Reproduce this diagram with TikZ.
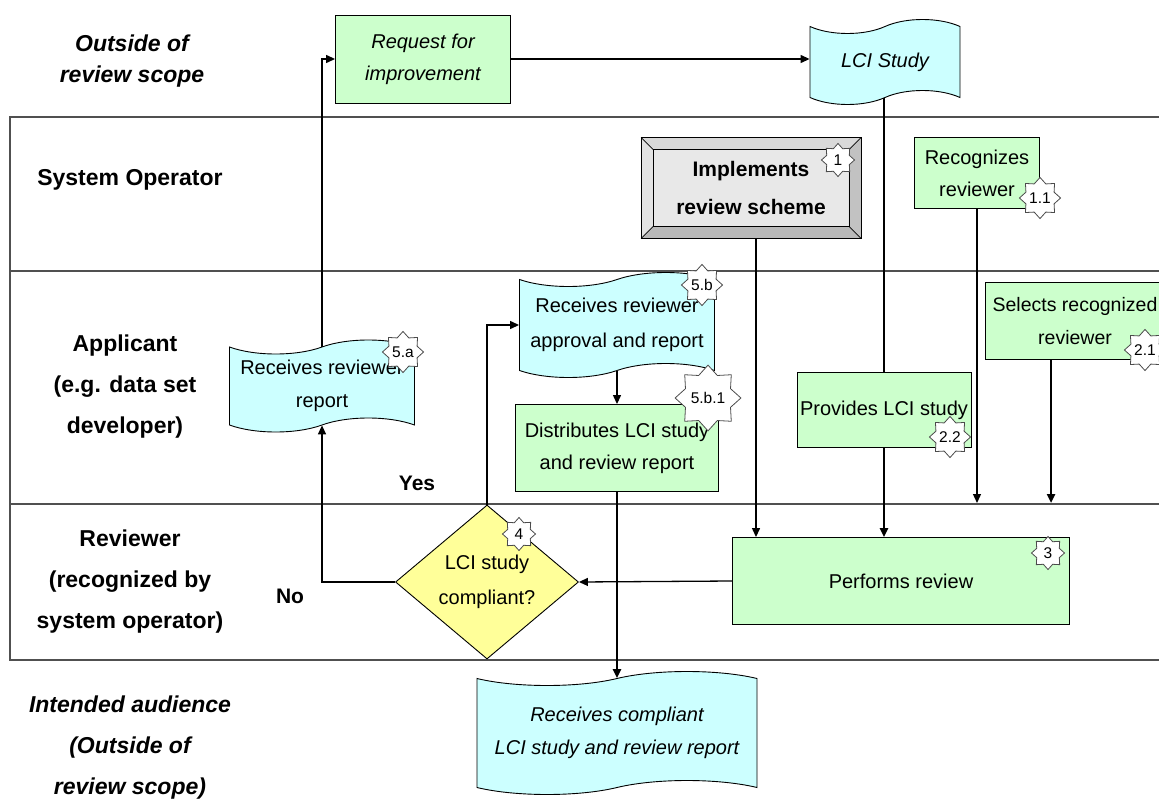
\documentclass[tikz,border=0pt]{standalone}
\usepackage{fontspec}
\setmainfont{Liberation Sans}
\usepackage{tikz}
\usepackage{xcolor}
\usetikzlibrary{positioning,arrows.meta,shapes.geometric,shapes.symbols,calc}

\definecolor{boxgreen}{HTML}{CCFFCC}
\definecolor{boxcyan}{HTML}{CCFFFF}
\definecolor{boxyellow}{HTML}{FFFF99}
\definecolor{laneline}{HTML}{505050}

\begin{document}
\begin{tikzpicture}[
          x=1pt, y=-1pt,
          lane/.style={draw=laneline, line width=1.3pt},
          lanelbl/.style={font=\fontsize{23}{41}\selectfont\bfseries, align=center},
          txt/.style={font=\fontsize{20}{33}\selectfont, align=center},
          task/.style={txt, draw, fill=boxgreen, line width=0.9pt, inner sep=1pt},
          doc/.style={txt, tape, draw, fill=boxcyan, tape bend height=14pt, line width=0.9pt, inner sep=1pt},
          badge/.style={star, star points=8, star point ratio=1.35, draw=gray!60!black, fill=white, line width=0.8pt,
                        minimum size=33pt, inner sep=0pt, font=\fontsize{15.5}{15.5}\selectfont},
          arr/.style={-{Triangle[length=9pt,width=8pt]}, line width=1.3pt},
          tharr/.style={arr, line width=2.6pt}
      ]
        \useasboundingbox (0,0) rectangle (1159,800);

        % swim lanes
        \draw[lane] (1159,117) -- (10,117) -- (10,660) -- (1159,660);
        \draw[lane] (10,271) -- (1159,271);
        \draw[lane] (10,504) -- (1159,504);
        \coordinate (revtop) at (0,503);

        \node[lanelbl, font=\fontsize{23}{31}\selectfont\bfseries\itshape] (outtop) at (132,61) {Outside of\\review scope};
        \node[lanelbl] (sysop) at (130,180) {System Operator};
        \node[lanelbl] (applic) at (125,387) {Applicant\\(e.g. data set\\developer)};
        \node[lanelbl] (revwr) at (130,582) {Reviewer\\(recognized by\\system operator)};
        \node[lanelbl, font=\fontsize{23}{41}\selectfont\bfseries\itshape] (audience) at (130,748) {Intended audience\\(Outside of\\review scope)};

        % boxes
        \node[task, minimum width=175pt, minimum height=88pt, font=\fontsize{20}{32}\selectfont\itshape] (req) at (423,59) {Request for\\improvement};
        \node[doc, minimum width=150pt, minimum height=85pt, font=\fontsize{20}{32}\selectfont\itshape] (lci) at (885,62) {LCI Study};

        \node[txt, draw, fill=gray!18, line width=0.9pt, minimum width=219pt, minimum height=100pt,
              font=\fontsize{21}{38}\selectfont\bfseries] (impl) at (751,188) {Implements\\review scheme};
        \fill[gray!30] (impl.north west) -- (impl.north east) -- ++(-12pt,-12pt) -- ($(impl.north west)+(12pt,-12pt)$) -- cycle;
        \fill[gray!22] (impl.north west) -- (impl.south west) -- ++(12pt,12pt) -- ($(impl.north west)+(12pt,-12pt)$) -- cycle;
        \fill[gray!55] (impl.south west) -- (impl.south east) -- ++(-12pt,12pt) -- ($(impl.south west)+(12pt,12pt)$) -- cycle;
        \fill[gray!48] (impl.north east) -- (impl.south east) -- ++(-12pt,12pt) -- ($(impl.north east)+(-12pt,-12pt)$) -- cycle;
        \draw[line width=0.7pt] ($(impl.north west)+(12pt,-12pt)$) rectangle ($(impl.south east)+(-12pt,12pt)$);
        \draw[line width=0.7pt] (impl.north west) -- ++(12pt,-12pt) (impl.north east) -- ++(-12pt,-12pt)
              (impl.south west) -- ++(12pt,12pt) (impl.south east) -- ++(-12pt,12pt);
        \draw[line width=0.9pt] (impl.north west) rectangle (impl.south east);

        \node[task, minimum width=125pt, minimum height=71pt, font=\fontsize{20}{32}\selectfont] (recog) at (977,173) {Recognizes\\reviewer};
        \node[task, minimum width=180pt, minimum height=77pt, font=\fontsize{19.5}{33}\selectfont] (sel) at (1075,321) {Selects recognized\\reviewer};
        \node[task, minimum width=174pt, minimum height=75pt] (prov) at (884,410) {Provides LCI study};
        \node[task, minimum width=337pt, minimum height=87pt] (perf) at (901,581) {Performs review};

        \node[doc, minimum width=185pt, minimum height=92pt] (recrep) at (322,386) {Receives reviewer\\report};
        \node[doc, minimum width=195pt, minimum height=105pt, font=\fontsize{20}{35}\selectfont] (recapp) at (617,325) {Receives reviewer\\approval and report};
        \node[task, minimum width=203pt, minimum height=87pt, font=\fontsize{20}{32}\selectfont] (dist) at (617,448) {Distributes LCI study\\and review report};

        \node[diamond, draw, fill=boxyellow, line width=0.9pt, aspect=1.19, inner sep=0pt,
              minimum width=183pt, minimum height=154pt, txt, font=\fontsize{20}{35}\selectfont] (compl) at (487,582) {LCI study\\compliant?};

        \node[doc, minimum width=280pt, minimum height=123pt, font=\fontsize{20}{33}\selectfont\itshape] (recaud) at (617,733) {Receives compliant\\LCI study and review report};

        \node[font=\fontsize{21}{24}\selectfont\bfseries] (yes) at (417,483) {Yes};
        \node[font=\fontsize{21}{24}\selectfont\bfseries] (no) at (290,596) {No};

        % connectors
        \draw[arr] (recrep.north) |- (req.west);
        \draw[arr] (req.east) -- (req.east -| lci.west);
        \draw[line width=2.6pt] (lci.south -| prov.north) -- (prov.north);
        \draw[tharr] (prov.south) -- (prov.south |- perf.north);
        \draw[arr] ([xshift=5pt]impl.south) -- ([xshift=5pt]impl.south |- perf.north);
        \draw[arr] (recog.south) -- (recog.south |- revtop);
        \draw[tharr] ([xshift=-24pt]sel.south) -- ([xshift=-24pt]sel.south |- revtop);
        \draw[arr] (perf.west) -- (compl.east);
        \draw[arr] (compl.north) |- (recapp.west);
        \draw[arr] (compl.west) -| (recrep.south);
        \draw[arr] (recapp.south) -- (dist.north);
        \draw[tharr] (dist.south) -- (dist.south |- recaud.north);

        % step badges
        \node[badge] (b1) at (838,160) {1};
        \node[badge] (b11) at (1040,198) {1.1};
        \node[badge] (b21) at (1145,350) {2.1};
        \node[badge] (b22) at (950,437) {2.2};
        \node[badge] (b3) at (1048,553) {3};
        \node[badge] (b4) at (519,534) {4};
        \node[badge] (b5b) at (702,285) {5.b};
        \node[badge] (b5b1) at (708,398) {5.b.1};
        \node[badge] (b5a) at (403,352) {5.a};
      \end{tikzpicture}
\end{document}
